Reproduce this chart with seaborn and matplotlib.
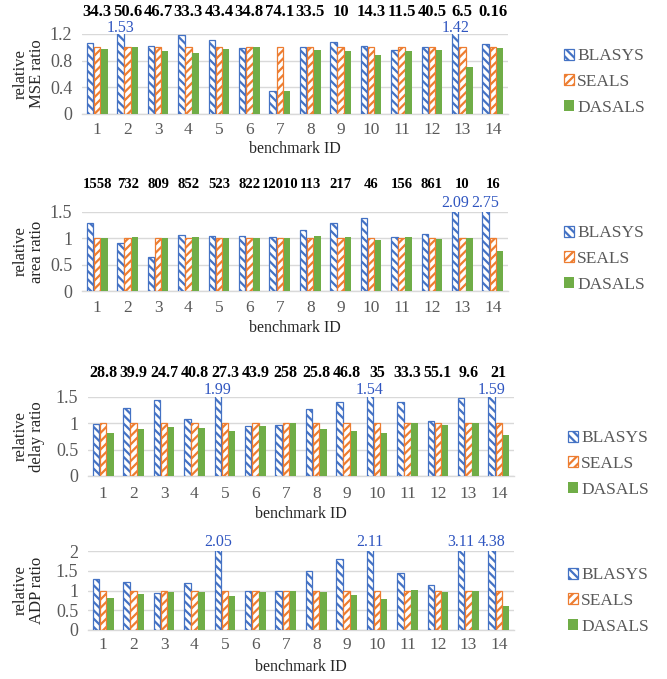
import numpy as np
import pandas as pd
import matplotlib
matplotlib.use("Agg")
import matplotlib.pyplot as plt
from matplotlib.ticker import FuncFormatter
import seaborn as sns

ids = [str(i) for i in range(1, 15)]
methods = ["BLASYS", "SEALS", "DASALS"]

mse_top = ["34.3", "50.6", "46.7", "33.3", "43.4", "34.8", "74.1", "33.5", "10", "14.3", "11.5", "40.5", "6.5", "0.16"]
mse_blasys = [1.07, 1.53, 1.02, 1.19, 1.11, 0.99, 0.35, 1.0, 1.08, 1.02, 0.96, 1.0, 1.42, 1.05]
mse_seals = [1.0] * 14
mse_dasals = [0.97, 1.0, 0.94, 0.91, 0.98, 1.0, 0.35, 0.96, 0.94, 0.89, 0.95, 0.96, 0.70, 0.99]

area_top = ["1558", "732", "809", "852", "523", "822", "12010", "113", "217", "46", "156", "861", "10", "16"]
area_blasys = [1.29, 0.92, 0.65, 1.07, 1.04, 1.05, 1.03, 1.16, 1.29, 1.38, 1.03, 1.08, 2.09, 2.75]
area_seals = [1.0] * 14
area_dasals = [1.0, 1.02, 1.01, 1.02, 1.01, 1.0, 1.0, 1.04, 1.02, 0.96, 1.02, 0.98, 1.0, 0.76]

delay_top = ["28.8", "39.9", "24.7", "40.8", "27.3", "43.9", "258", "25.8", "46.8", "35", "33.3", "55.1", "9.6", "21"]
delay_blasys = [0.98, 1.30, 1.45, 1.09, 1.99, 0.94, 0.96, 1.27, 1.40, 1.54, 1.40, 1.04, 1.48, 1.59]
delay_seals = [1.0] * 14
delay_dasals = [0.81, 0.89, 0.93, 0.92, 0.86, 0.94, 1.0, 0.90, 0.86, 0.81, 1.0, 0.96, 1.0, 0.77]

adp_blasys = [1.28, 1.22, 0.94, 1.18, 2.05, 1.0, 1.0, 1.49, 1.81, 2.11, 1.45, 1.13, 3.11, 4.38]
adp_seals = [1.0] * 14
adp_dasals = [0.82, 0.92, 0.95, 0.96, 0.87, 0.96, 1.0, 0.95, 0.88, 0.79, 1.02, 0.96, 1.0, 0.60]

W, H = 667, 679
panels = [
    dict(label="relative\nMSE ratio", vals=(mse_blasys, mse_seals, mse_dasals), top=mse_top,
         ymax=1.2, ticks=[0, 0.4, 0.8, 1.2], box=(82, 34, 508, 114),
         tick_y=132, xlab_y=149, top_y=12, top_fs=12, over_dy=6, leg=(564, 82)),
    dict(label="relative\narea ratio", vals=(area_blasys, area_seals, area_dasals), top=area_top,
         ymax=1.5, ticks=[0, 0.5, 1, 1.5], box=(82, 212, 508, 291),
         tick_y=310, xlab_y=328, top_y=184, top_fs=10.5, over_dy=9, leg=(564, 259)),
    dict(label="relative\ndelay ratio", vals=(delay_blasys, delay_seals, delay_dasals), top=delay_top,
         ymax=1.5, ticks=[0, 0.5, 1, 1.5], box=(88, 397, 514, 476),
         tick_y=496, xlab_y=514, top_y=373, top_fs=11.5, over_dy=7, leg=(568, 464)),
    dict(label="relative\nADP ratio", vals=(adp_blasys, adp_seals, adp_dasals), top=None,
         ymax=2.0, ticks=[0, 0.5, 1, 1.5, 2], box=(88, 551, 514, 630),
         tick_y=647, xlab_y=667, top_y=None, top_fs=None, over_dy=9, leg=(568, 601)),
]

sns.set_style("white")
plt.rcParams["font.family"] = ["Liberation Serif", "DejaVu Serif"]
plt.rcParams["hatch.linewidth"] = 1.6

blue, orange, green = "#4472C4", "#ED7D31", "#70AD47"
grid_c = "#D9D9D9"
tick_c = "#595959"

fig = plt.figure(figsize=(W / 100, H / 100), dpi=100)

for p in panels:
    x0, y0, x1, y1 = p["box"]
    ax = fig.add_axes([x0 / W, 1 - y1 / H, (x1 - x0) / W, (y1 - y0) / H])
    axh = y1 - y0
    b, s, d = p["vals"]
    df = pd.DataFrame({
        "id": ids * 3,
        "method": np.repeat(methods, 14),
        "value": list(b) + list(s) + list(d),
    })
    sns.barplot(data=df, x="id", y="value", hue="method", hue_order=methods,
                palette=[blue, orange, green], width=0.7, gap=0.1,
                ax=ax, legend=False, errorbar=None, zorder=3)
    styles = [
        dict(facecolor="white", edgecolor=blue, hatch="\\\\\\\\", linewidth=0.9),
        dict(facecolor="white", edgecolor=orange, hatch="////", linewidth=0.9),
        dict(facecolor=green, edgecolor=green, hatch=None, linewidth=0.0),
    ]
    for cont, st in zip(ax.containers, styles):
        for bar in cont.patches:
            bar.set_facecolor(st["facecolor"])
            bar.set_edgecolor(st["edgecolor"])
            bar.set_linewidth(st["linewidth"])
            if st["hatch"]:
                bar.set_hatch(st["hatch"])
    ax.set_ylim(0, p["ymax"])
    ax.set_xlim(-0.5, 13.5)
    ax.set_yticks(p["ticks"])
    ax.yaxis.set_major_formatter(FuncFormatter(lambda v, _: f"{v:g}"))
    ax.grid(axis="y", color=grid_c, linewidth=1.0, zorder=0)
    ax.set_axisbelow(True)
    for sp in ["top", "right", "left"]:
        ax.spines[sp].set_visible(False)
    ax.spines["bottom"].set_color(grid_c)
    ax.spines["bottom"].set_linewidth(1.0)
    ax.tick_params(axis="both", length=0, labelcolor=tick_c)
    ax.tick_params(axis="y", pad=7, labelsize=13)
    tick_pad_pt = max(0.0, (p["tick_y"] - y1 - 10) * 0.72)
    ax.tick_params(axis="x", pad=tick_pad_pt, labelsize=12.5)
    ax.set_xlabel("benchmark ID", fontsize=11.5, va="center")
    ax.xaxis.set_label_coords(0.5, -(p["xlab_y"] - y1) / axh)
    ax.set_ylabel(p["label"], fontsize=12, linespacing=1.05, va="center")
    ax.yaxis.set_label_coords(-(x0 - 29) / (x1 - x0), 0.5)

    # overflow labels for bars beyond the axis top
    cont = ax.containers[0]
    for bar, v in zip(cont.patches, b):
        if v > p["ymax"] + 1e-9:
            ax.annotate(f"{v:.2f}", xy=(bar.get_x() + bar.get_width() / 2, p["ymax"]),
                        xytext=(0, p["over_dy"] * 0.72), textcoords="offset points",
                        ha="center", va="center",
                        color="#2F55C0", fontsize=11.5, annotation_clip=False)
    if p["top"] is not None:
        off = (y0 - p["top_y"]) * 0.72
        for i, t in enumerate(p["top"]):
            ax.annotate(t, xy=(i, 1.0), xycoords=ax.get_xaxis_transform(),
                        xytext=(0, off), textcoords="offset points", ha="center", va="center",
                        fontsize=p["top_fs"], fontweight="bold", color="black",
                        annotation_clip=False)

    lx, ly = p["leg"]
    leg = ax.legend(ax.containers, methods, loc="center left",
                    bbox_to_anchor=(lx / W, 1 - ly / H), bbox_transform=fig.transFigure,
                    frameon=False, fontsize=12.5, handlelength=0.6, handleheight=0.6,
                    handletextpad=0.15, labelspacing=0.55, borderaxespad=0, borderpad=0)
    for txt in leg.get_texts():
        txt.set_color(tick_c)

fig.savefig("out.png", dpi=100)
